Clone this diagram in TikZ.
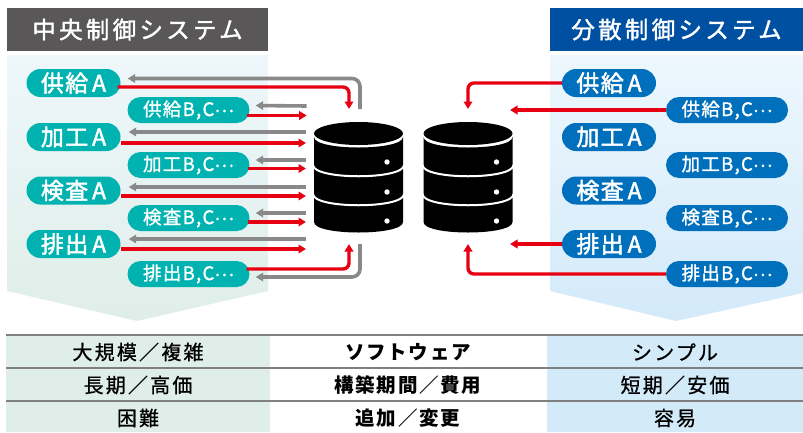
\documentclass[tikz,border=0pt]{standalone}
\usepackage{fontspec}
\setmainfont{Noto Sans CJK JP}
\newfontfamily\headfont[LetterSpace=14,FakeBold=1.6]{Noto Sans CJK JP}
\newfontfamily\pillfont[LetterSpace=6,FakeBold=2]{Noto Sans CJK JP}
\newfontfamily\subfont[LetterSpace=7,FakeBold=1.4]{Noto Sans CJK JP}
\newfontfamily\tablefont[LetterSpace=11,FakeBold=0.8]{Noto Sans CJK JP}
\newfontfamily\tableboldfont[LetterSpace=9]{Noto Sans CJK JP}
\usetikzlibrary{
    shapes.misc, arrows.meta, positioning, calc
}
\definecolor{colHeadGray}{RGB}{89, 87, 87}
\definecolor{colHeadBlue}{RGB}{0, 80, 162}
\definecolor{colTeal}{RGB}{0, 178, 176}
\definecolor{colBlue}{RGB}{0, 112, 188}
\definecolor{colRed}{RGB}{230, 0, 18}
\definecolor{colGrayLine}{RGB}{137, 137, 137}
\definecolor{colPanelGreen}{RGB}{223, 238, 232}
\definecolor{colPanelBlue}{RGB}{211, 234, 249}
\definecolor{colPanelTopG}{RGB}{238, 247, 251}
\definecolor{colPanelTopB}{RGB}{237, 247, 253}
\definecolor{colRule}{RGB}{128, 128, 128}
\newcommand{\middots}{\raisebox{4pt}{…}}
\tikzset{
    headbox/.style={minimum width=#1, minimum height=43pt, inner sep=0pt, text=white, font=\headfont\fontsize{23.5}{24}\selectfont},
    pillA/.style={rounded rectangle, fill=#1, minimum width=94pt, minimum height=28pt, inner sep=0pt, text=white, font=\pillfont\fontsize{23}{23}\selectfont},
    pillB/.style={rounded rectangle, fill=#1, minimum width=122pt, minimum height=26pt, inner sep=0pt, text=white, font=\subfont\fontsize{18.5}{19}\selectfont},
    redline/.style={draw=colRed, line width=3.4pt, rounded corners=6pt, -{Triangle[length=7.5pt, width=8.5pt]}},
    grayline/.style={draw=colGrayLine, line width=3.6pt, rounded corners=8pt, -{Triangle[length=7.5pt, width=8.5pt]}},
    celltext/.style={font=\tablefont\fontsize{20}{20}\selectfont, text=black, inner sep=0pt}
}
\begin{document}
\begin{tikzpicture}[x=1pt, y=-1pt]
    \useasboundingbox (0,0) rectangle (803,432);

    % --- Panels ---
    \shade[top color=colPanelTopG, bottom color=colPanelGreen] (7,55) -- (268,55) -- (268,291) -- (137,321) -- (7,291) -- cycle;
    \shade[top color=colPanelTopB, bottom color=colPanelBlue] (550,55) -- (803,55) -- (803,293) -- (676,321) -- (550,291) -- cycle;

    % --- Headers ---
    \node[headbox=261pt, fill=colHeadGray] (headL) at (137.5,29.5) {中央制御システム};
    \node[headbox=253pt, fill=colHeadBlue] (headR) at (676.5,29.5) {分散制御システム};

    % --- Table ---
    \fill[colPanelGreen] (6,335) rectangle (270,432);
    \fill[colPanelBlue] (547,335) rectangle (803,432);
    \foreach \y in {335, 368, 401} {
        \draw[colRule, line width=1.6pt] (6,\y) -- (803,\y);
    }
    \foreach \y/\a/\b/\c/\n in {352/大規模／複雑/ソフトウェア/シンプル/1, 385/長期／高価/構築期間／費用/短期／安価/2, 418/困難/追加／変更/容易/3} {
        \node[celltext] (cellL\n) at (138,\y) {\a};
        \node[celltext, font=\tableboldfont\bfseries\fontsize{19.5}{20}\selectfont] (cellM\n) at (408,\y) {\b};
        \node[celltext] (cellR\n) at (675,\y) {\c};
    }

    % --- Databases ---
    \foreach \cx in {358.5, 468} {
        \fill[black] (\cx,133.5) ellipse [x radius=44.5pt, y radius=11.5pt];
        \fill[black] (\cx-44.5,137) .. controls (\cx-44.5,151) and (\cx+44.5,151) .. (\cx+44.5,137)
            -- (\cx+44.5,222) .. controls (\cx+44.5,236) and (\cx-44.5,236) .. (\cx-44.5,222) -- cycle;
        \foreach \y in {165, 194} {
            \draw[white, line width=2pt] (\cx-45.5,\y) .. controls (\cx-45.5,\y+15) and (\cx+45.5,\y+15) .. (\cx+45.5,\y);
        }
        \foreach \y in {162, 192, 221} {
            \fill[white] (\cx+28.5,\y) circle (2.7pt);
        }
    }

    % --- Left pills ---
    \foreach \y/\t/\n in {83/供給/kyu, 137/加工/kak, 190.5/検査/ken, 244/排出/hai} {
        \node[pillA=colTeal] (\n AL) at (73.5,\y) {\t\,A};
    }
    \foreach \y/\t/\n in {110/供給/kyu, 165/加工/kak, 218/検査/ken, 274/排出/hai} {
        \node[pillB=colTeal] (\n BL) at (188.5,\y) {\t B,C\middots};
    }

    % --- Right pills ---
    \foreach \y/\t/\n in {83/供給/kyu, 137/加工/kak, 190.5/検査/ken, 244/排出/hai} {
        \node[pillA=colBlue] (\n AR) at (609,\y) {\t\,A};
    }
    \foreach \y/\t/\n in {110/供給/kyu, 165/加工/kak, 218/検査/ken, 274/排出/hai} {
        \node[pillB=colBlue] (\n BR) at (727,\y) {\t B,C\middots};
    }

    % --- Left connectors ---
    \coordinate (topIn) at (349,109);
    \coordinate (topOut) at (360,109);
    \coordinate (botIn) at (349,244);
    \coordinate (botOut) at (360,244);
    \draw[grayline] (topOut) -- (360,78.5) -- ([xshift=7pt,yshift=4.5pt]kyuAL.east);
    \draw[redline] ([xshift=-3pt,yshift=-4pt]kyuAL.east) -| (topIn);
    \draw[redline] ([xshift=-3pt,yshift=-5.5pt]kyuBL.east) -- ++(60,0) coordinate (kyuBend);
    \draw[grayline] ($(kyuBend)+(0,-9.5)$) -- ([xshift=6pt,yshift=4.5pt]kyuBL.east);
    % Baris tengah
    \foreach \n/\k/\p/\q in {kak/A/143/132, ken/A/196/187, hai/A/249/239} {
        \coordinate (\n End) at (306,\p);
        \coordinate (\n Back) at (306,\q);
        \draw[redline] (\n \k L.east |- \n End) -- (\n End);
        \draw[grayline] (\n Back) -- ($(\n \k L.east |- \n Back)+(8,0)$);
    }
    \foreach \n/\p/\q in {kak/168.5/160, ken/222/213} {
        \coordinate (\n EndB) at (306,\p);
        \coordinate (\n BackB) at (306,\q);
        \draw[redline] ([xshift=-2pt]\n BL.east |- \n EndB) -- (\n EndB);
        \draw[grayline] (\n BackB) -- ($(\n BL.east |- \n BackB)+(6,0)$);
    }
    \draw[redline] ([xshift=-3pt,yshift=5pt]haiBL.east) -| (botIn);
    \draw[grayline] (botOut) -- (360,277) -- ([xshift=6pt,yshift=-3pt]haiBL.east);

    % --- Right connectors ---
    \draw[redline] (kyuAR.west) -| (468,109);
    \draw[redline] (kyuBR.west) -- (510,110);
    \draw[redline] (haiAR.west) -- (510,244);
    \draw[redline] (haiBR.west) -| (468,244);
\end{tikzpicture}
\end{document}
